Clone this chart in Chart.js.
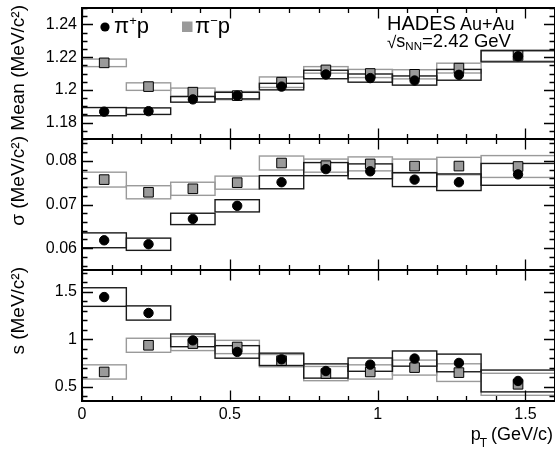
<!DOCTYPE html>
<html><head><meta charset="utf-8">
<script src="https://cdn.jsdelivr.net/npm/chart.js@4.4.1/dist/chart.umd.min.js"></script>
<style>html,body{margin:0;padding:0;background:#fff}canvas{display:block}</style>
</head><body>
<canvas id="c" width="555" height="449" style="width:555px;height:449px"></canvas>
<script>
// ---- data ----
const binLow  = [0, 0.15, 0.3, 0.45, 0.6, 0.75, 0.9, 1.05, 1.2, 1.35];
const binHigh = [0.15, 0.3, 0.45, 0.6, 0.75, 0.9, 1.05, 1.2, 1.35, 1.6];
const ptCenter = [0.075, 0.225, 0.375, 0.525, 0.675, 0.825, 0.975, 1.125, 1.275, 1.475];

const meanPiPlus     = [1.1867, 1.1870, 1.1942, 1.1965, 1.2020, 1.2094, 1.2072, 1.2057, 1.2092, 1.2205];
const meanPiPlusSys  = [0.0025, 0.0020, 0.0017, 0.0020, 0.0020, 0.0026, 0.0025, 0.0028, 0.0033, 0.0034];
const meanPiMinus    = [1.2165, 1.2020, 1.1986, 1.1965, 1.2047, 1.2122, 1.2100, 1.2095, 1.2133, 1.2210];
const meanPiMinusSys = [0.0023, 0.0023, 0.0025, 0.0025, 0.0032, 0.0020, 0.0025, 0.0028, 0.0030, 0.0034];

const sigmaPiPlus     = [0.0618, 0.0609, 0.0667, 0.0697, 0.0751, 0.0781, 0.0776, 0.0757, 0.0751, 0.0769];
const sigmaPiPlusSys  = [0.0017, 0.0014, 0.0013, 0.0014, 0.0015, 0.0015, 0.0017, 0.0016, 0.0019, 0.0025];
const sigmaPiMinus    = [0.0757, 0.0728, 0.0736, 0.0750, 0.0795, 0.0789, 0.0793, 0.0788, 0.0788, 0.0787];
const sigmaPiMinusSys = [0.0017, 0.0015, 0.0015, 0.0015, 0.0016, 0.0015, 0.0016, 0.0016, 0.0020, 0.0025];

const sPiPlus     = [1.445, 1.277, 0.989, 0.867, 0.789, 0.666, 0.733, 0.797, 0.751, 0.561];
const sPiPlusSys  = [0.098, 0.075, 0.067, 0.066, 0.065, 0.075, 0.070, 0.080, 0.093, 0.115];
const sPiMinus    = [0.656, 0.937, 0.955, 0.919, 0.775, 0.639, 0.656, 0.702, 0.649, 0.526];
const sPiMinusSys = [0.075, 0.074, 0.074, 0.070, 0.065, 0.075, 0.075, 0.079, 0.093, 0.116];

const xTicks     = [0, 0.5, 1, 1.5];
const meanTicks  = [1.18, 1.2, 1.22, 1.24];
const sigmaTicks = [0.06, 0.07, 0.08];
const sTicks     = [0.5, 1, 1.5];

const seriesNames = ['π⁺p', 'π⁻p'];
const meanTitle = 'Mean (MeV/c²)';
const sigmaTitle = 'σ (MeV/c²)';
const sTitle = 's (MeV/c²)';
const xTitleMain = 'p', xTitleSub = 'T', xTitleUnit = '(GeV/c)';
const expLabel = 'HADES', sysLabel = 'Au+Au';
const energyParts = ['√', 's', 'NN', '=2.42 GeV'];

// ---- styling / build ----
const FONT = "'Liberation Sans', Arial, Helvetica, sans-serif";
const DARK = '#1a1a1a', GRAY = '#9a9a9a';

const panels = [
  {id: 'y',  plus: meanPiPlus,  plusSys: meanPiPlusSys,  minus: meanPiMinus,  minusSys: meanPiMinusSys,  ticks: meanTicks,  minor: 0.005, min: 1.17, max: 1.25, title: meanTitle},
  {id: 'y2', plus: sigmaPiPlus, plusSys: sigmaPiPlusSys, minus: sigmaPiMinus, minusSys: sigmaPiMinusSys, ticks: sigmaTicks, minor: 0.002, min: 0.055, max: 0.085, title: sigmaTitle},
  {id: 'y3', plus: sPiPlus,     plusSys: sPiPlusSys,     minus: sPiMinus,     minusSys: sPiMinusSys,     ticks: sTicks,     minor: 0.1,   min: 0.35, max: 1.73, title: sTitle}
];

const datasets = [];
panels.forEach(p => datasets.push({
  label: seriesNames[0], yAxisID: p.id, showLine: false,
  data: ptCenter.map((x, i) => ({x, y: p.plus[i]})),
  pointStyle: 'circle', pointRadius: 4.7, pointBackgroundColor: '#000', pointBorderColor: '#000', pointBorderWidth: 1
}));
panels.forEach(p => datasets.push({
  label: seriesNames[1], yAxisID: p.id, showLine: false,
  data: ptCenter.map((x, i) => ({x, y: p.minus[i]})),
  pointStyle: 'rect', pointRadius: 6.8, pointBackgroundColor: GRAY, pointBorderColor: '#000', pointBorderWidth: 1
}));

function yScale(p) {
  return {
    type: 'linear', position: 'left', stack: 'panels', stackWeight: 1,
    min: p.min, max: p.max,
    afterBuildTicks: s => { s.ticks = p.ticks.map(v => ({value: v})); },
    afterFit: s => { s.width = 82; s.paddingTop = 0; s.paddingBottom = 0; },
    grid: {display: false, drawTicks: false}, border: {display: false},
    ticks: {font: {family: FONT, size: 16}, color: '#000', padding: 5, callback: v => String(v)}
  };
}

const boxPlugin = {
  id: 'sysBoxes',
  beforeDatasetsDraw(chart) {
    const ctx = chart.ctx, xs = chart.scales.x, ca = chart.chartArea;
    ctx.save();
    ctx.beginPath(); ctx.rect(ca.left, ca.top, ca.right - ca.left, ca.bottom - ca.top); ctx.clip();
    ctx.lineWidth = 1.4;
    panels.forEach(p => {
      const ys = chart.scales[p.id];
      [[p.minus, p.minusSys, GRAY], [p.plus, p.plusSys, DARK]].forEach(([vals, sys, col]) => {
        ctx.strokeStyle = col;
        vals.forEach((v, i) => {
          const x1 = xs.getPixelForValue(binLow[i]), x2 = xs.getPixelForValue(binHigh[i]);
          const y1 = ys.getPixelForValue(v + sys[i]), y2 = ys.getPixelForValue(v - sys[i]);
          ctx.strokeRect(x1, y1, x2 - x1, y2 - y1);
        });
      });
    });
    ctx.restore();
  }
};

function drawParts(ctx, x, parts) {
  parts.forEach(pt => {
    ctx.font = pt.size + 'px ' + FONT;
    ctx.fillText(pt.t, x, pt.y);
    x += ctx.measureText(pt.t).width + (pt.gap || 0);
  });
  return x;
}

const framePlugin = {
  id: 'frames',
  afterDatasetsDraw(chart) {
    const ctx = chart.ctx, xs = chart.scales.x, ca = chart.chartArea;
    ctx.save();
    ctx.strokeStyle = '#000';
    panels.forEach(p => {
      const ys = chart.scales[p.id];
      const top = ys.top, bot = ys.bottom, L = ca.left, R = ca.right;
      ctx.lineWidth = 1.3;
      ctx.beginPath();
      const kmin = Math.ceil(p.min / p.minor - 1e-6), kmax = Math.floor(p.max / p.minor + 1e-6);
      for (let k = kmin; k <= kmax; k++) {
        const v = k * p.minor;
        const major = p.ticks.some(t => Math.abs(t - v) < p.minor / 10);
        const len = major ? 11 : 5.5;
        const y = Math.round(ys.getPixelForValue(v)) + 0.5;
        ctx.moveTo(L, y); ctx.lineTo(L + len, y);
        ctx.moveTo(R, y); ctx.lineTo(R - len, y);
      }
      for (let k = 0; k <= 16; k++) {
        const v = k * 0.1;
        const major = xTicks.some(t => Math.abs(t - v) < 0.01);
        const len = major ? 10.5 : 5;
        const x = Math.round(xs.getPixelForValue(v)) + 0.5;
        ctx.moveTo(x, top); ctx.lineTo(x, top + len);
        ctx.moveTo(x, bot); ctx.lineTo(x, bot - len);
      }
      ctx.stroke();
      ctx.lineWidth = 2;
      ctx.strokeRect(L, top, R - L, bot - top);

      ctx.save();
      ctx.fillStyle = '#000';
      ctx.font = '19px ' + FONT;
      ctx.textAlign = 'right'; ctx.textBaseline = 'middle';
      ctx.translate(19, top - 3);
      ctx.rotate(-Math.PI / 2);
      ctx.fillText(p.title, 0, 0);
      ctx.restore();
    });

    ctx.fillStyle = '#000';
    ctx.textBaseline = 'alphabetic';
    ctx.textAlign = 'left';
    // legend
    ctx.beginPath(); ctx.arc(105, 27, 4.6, 0, Math.PI * 2); ctx.fill();
    drawParts(ctx, 114, [{t: 'π', size: 22, y: 33}, {t: '+', size: 13, y: 25}, {t: 'p', size: 22, y: 33}]);
    ctx.fillStyle = GRAY;
    ctx.fillRect(182, 21.5, 10.5, 10.5);
    ctx.fillStyle = '#000';
    drawParts(ctx, 195, [{t: 'π', size: 22, y: 33}, {t: '−', size: 13, y: 25}, {t: 'p', size: 22, y: 33}]);

    // experiment label
    drawParts(ctx, 387, [{t: expLabel, size: 20, y: 30, gap: 4}, {t: sysLabel, size: 18, y: 30}]);
    drawParts(ctx, 387, [{t: energyParts[0], size: 17, y: 48}, {t: energyParts[1], size: 18, y: 47},
                         {t: energyParts[2], size: 11.5, y: 50}, {t: energyParts[3], size: 18.5, y: 47}]);

    // x title
    ctx.textAlign = 'right';
    ctx.font = '18px ' + FONT;
    ctx.fillText(xTitleUnit, 553, 440);
    let xe = 553 - ctx.measureText(xTitleUnit).width - 4;
    ctx.font = '12px ' + FONT;
    ctx.fillText(xTitleSub, xe, 447);
    xe -= ctx.measureText(xTitleSub).width;
    ctx.font = '18px ' + FONT;
    ctx.fillText(xTitleMain, xe + 1, 440);
    ctx.restore();
  }
};

new Chart(document.getElementById('c'), {
  type: 'scatter',
  data: {datasets},
  options: {
    responsive: false, animation: false, events: [],
    layout: {autoPadding: false, padding: {top: 8, left: 0, right: 0, bottom: 0}},
    plugins: {legend: {display: false}, tooltip: {enabled: false}},
    scales: {
      x: {
        type: 'linear', min: 0, max: 1.6,
        afterBuildTicks: s => { s.ticks = xTicks.map(v => ({value: v})); },
        afterFit: s => { s.height = 48; s.paddingLeft = 0; s.paddingRight = 0; },
        grid: {display: false, drawTicks: false}, border: {display: false},
        ticks: {font: {family: FONT, size: 16}, color: '#000', padding: 4, maxRotation: 0, autoSkip: false, callback: v => String(v)}
      },
      y3: yScale(panels[2]),
      y2: yScale(panels[1]),
      y:  yScale(panels[0])
    }
  },
  plugins: [boxPlugin, framePlugin]
});
</script>
</body></html>
